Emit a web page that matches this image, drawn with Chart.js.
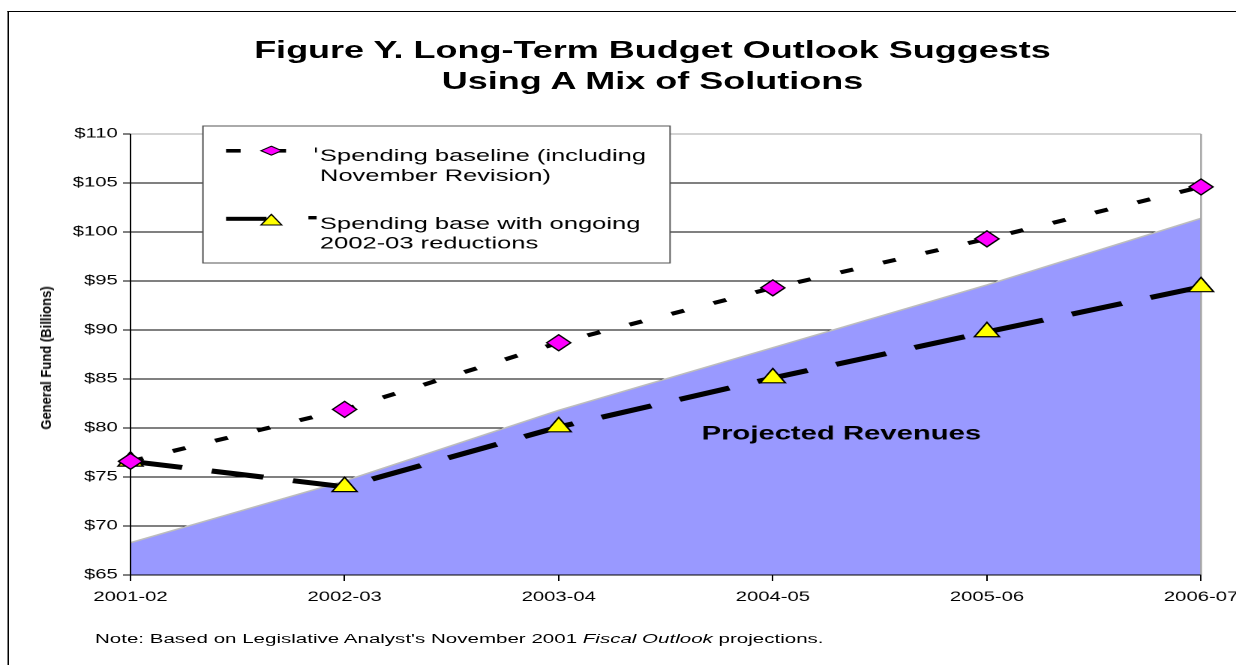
<!DOCTYPE html>
<html>
<head>
<meta charset="utf-8">
<script src="https://cdn.jsdelivr.net/npm/chart.js@4.4.1/dist/chart.umd.min.js"></script>
<style>
  html, body { margin: 0; padding: 0; background: #fff; overflow: hidden; width: 1236px; height: 665px; }
  /* the original figure is stretched sideways, so the whole stage is drawn narrow and scaled */
  #stage { position: absolute; left: 0; top: 0; width: 880px; height: 665px; transform: scaleX(1.5); transform-origin: 0 0; }
  #frame { position: absolute; left: 5.4px; top: 11px; width: 1200px; height: 1200px; border-left: 1px solid #000; border-top: 1.5px solid #000; }
  #title { position: absolute; left: 0; top: 34px; width: 870px; text-align: center; font: bold 24px "Liberation Sans", Arial, sans-serif; line-height: 31px; color: #000; }
  #note { position: absolute; left: 63.3px; top: 631px; font: 13.7px "Liberation Sans", Arial, sans-serif; white-space: nowrap; color: #000; }
  #wrap { position: absolute; left: 0; top: 0; width: 880px; height: 665px; }
  #ytitle { position: absolute; left: 45.5px; top: 358px; transform: translate(-50%, -50%) rotate(-90deg) scaleX(0.93); font: bold 14px "Liberation Sans", Arial, sans-serif; white-space: nowrap; color: #000; }
</style>
</head>
<body>
<div id="stage">
  <div id="frame"></div>
  <div id="title">Figure Y. Long-Term Budget Outlook Suggests<br>Using A Mix of Solutions</div>
  <div id="wrap"><canvas id="budgetChart"></canvas></div>
  <div id="note">Note: Based on Legislative Analyst's November 2001 <i>Fiscal Outlook</i> projections.</div>
</div>
<div id="ytitle">General Fund (Billions)</div>
<script>
var categories = ['2001-02', '2002-03', '2003-04', '2004-05', '2005-06', '2006-07'];
var baseline = [76.6, 81.9, 88.7, 94.3, 99.3, 104.6];
var reductions = [76.6, 74.0, 80.1, 85.1, 89.8, 94.4];
var revenues = [68.3, 74.6, 81.8, 88.2, 94.6, 101.4];
var yMin = 65, yMax = 110, yStep = 5;
var legendText = [
    ['Spending baseline (including', 'November Revision)'],
    ['Spending base with ongoing', '2002-03 reductions']
];
var areaLabel = 'Projected Revenues';

var FONT = '"Liberation Sans", Arial, sans-serif';
Chart.defaults.font.family = FONT;
Chart.defaults.color = '#000';

function diamond(ctx, x, y, hw, hh) {
    ctx.beginPath();
    ctx.moveTo(x, y - hh);
    ctx.lineTo(x + hw, y);
    ctx.lineTo(x, y + hh);
    ctx.lineTo(x - hw, y);
    ctx.closePath();
    ctx.fill();
    ctx.stroke();
}

var extras = {
    id: 'extras',
    afterDatasetDraw: function (chart, args) {
        // axis lines and right border go over the revenue area but under the spending lines
        if (args.index !== 2) return;
        var a = chart.chartArea, ctx = chart.ctx;
        ctx.save();
        ctx.strokeStyle = '#a6a6a6';
        ctx.lineWidth = 1.3;
        ctx.beginPath();
        ctx.moveTo(a.right, a.top);
        ctx.lineTo(a.right, a.bottom);
        ctx.stroke();
        ctx.strokeStyle = '#000';
        ctx.lineWidth = 1;
        ctx.beginPath();
        ctx.moveTo(a.left, a.top);
        ctx.lineTo(a.left, a.bottom);
        ctx.lineTo(a.right, a.bottom);
        ctx.stroke();
        ctx.restore();
    },
    afterDatasetsDraw: function (chart) {
        var ctx = chart.ctx, xs = chart.scales.x, ys = chart.scales.y;
        ctx.save();
        ctx.font = 'bold 19.5px ' + FONT;
        ctx.fillStyle = '#000';
        ctx.textAlign = 'center';
        ctx.textBaseline = 'middle';
        ctx.fillText(areaLabel, xs.getPixelForValue(3.32), ys.getPixelForValue(79.4));
        ctx.restore();
    },
    afterDraw: function (chart) {
        var ctx = chart.ctx;
        ctx.save();
        // legend box
        ctx.fillStyle = '#fff';
        ctx.fillRect(135.3, 126, 311.4, 137);
        ctx.strokeStyle = '#555';
        ctx.lineWidth = 1;
        ctx.strokeRect(135.3, 126, 311.4, 137);

        // first sample: dashes with a diamond
        ctx.fillStyle = '#000';
        ctx.fillRect(150.7, 149, 9.7, 3.6);
        ctx.fillRect(180.9, 149, 9.8, 3.6);
        ctx.fillRect(210, 147.5, 1.2, 5);
        ctx.fillStyle = '#FF00FF';
        ctx.strokeStyle = '#000';
        ctx.lineWidth = 1;
        diamond(ctx, 180.9, 150.7, 6.9, 4.5);

        // second sample: line with a triangle
        ctx.fillStyle = '#000';
        ctx.fillRect(150.7, 216.8, 27, 4);
        ctx.fillRect(205.6, 216, 5.5, 3.4);
        ctx.fillStyle = '#FFFF00';
        ctx.beginPath();
        ctx.moveTo(180.9, 214.3);
        ctx.lineTo(187.8, 225);
        ctx.lineTo(174, 225);
        ctx.closePath();
        ctx.fill();
        ctx.stroke();

        ctx.fillStyle = '#000';
        ctx.font = '17px ' + FONT;
        ctx.textAlign = 'left';
        ctx.textBaseline = 'middle';
        ctx.fillText(legendText[0][0], 213.3, 156.5);
        ctx.fillText(legendText[0][1], 213.3, 176.5);
        ctx.fillText(legendText[1][0], 213.3, 224.5);
        ctx.fillText(legendText[1][1], 213.3, 244);
        ctx.restore();
    }
};

new Chart(document.getElementById('budgetChart'), {
    type: 'line',
    data: {
        labels: categories,
        datasets: [{
            label: legendText[0].join(' '),
            data: baseline,
            borderColor: '#000',
            borderWidth: 4,
            borderDash: [9, 21],
            fill: false,
            tension: 0,
            clip: false,
            pointStyle: 'rectRot',
            pointRadius: 8,
            pointBackgroundColor: '#FF00FF',
            pointBorderColor: '#000',
            pointBorderWidth: 1.2
        }, {
            label: legendText[1].join(' '),
            data: reductions,
            borderColor: '#000',
            borderWidth: 5,
            borderDash: [35, 20],
            fill: false,
            tension: 0,
            clip: false,
            pointStyle: 'triangle',
            pointRadius: 9.6,
            pointBackgroundColor: '#FFFF00',
            pointBorderColor: '#000',
            pointBorderWidth: 1.2
        }, {
            label: areaLabel,
            data: revenues,
            borderColor: '#bdbdbd',
            borderWidth: 1.5,
            backgroundColor: '#9999FF',
            fill: 'start',
            tension: 0,
            pointRadius: 0
        }]
    },
    options: {
        responsive: true,
        maintainAspectRatio: false,
        animation: false,
        devicePixelRatio: 2,
        layout: { padding: { left: 0, top: 134, right: 79.3, bottom: 0 } },
        scales: {
            x: {
                grid: { drawOnChartArea: false, drawTicks: true, tickLength: 6, color: '#000' },
                border: { display: false },
                ticks: { autoSkip: false, maxRotation: 0, padding: 8, font: { size: 13.5 }, color: '#000' },
                afterFit: function (scale) { scale.height = 90; }
            },
            y: {
                min: yMin,
                max: yMax,
                grid: {
                    color: function (c) { return c.tick && c.tick.value === yMax ? '#a6a6a6' : '#000'; },
                    tickColor: '#000',
                    tickLength: 5,
                    lineWidth: 1
                },
                border: { display: false },
                ticks: {
                    stepSize: yStep,
                    padding: 3.5,
                    font: { size: 13.5 },
                    color: '#000',
                    callback: function (v) { return '$' + v; }
                },
                afterFit: function (scale) { scale.width = 87; }
            }
        },
        plugins: {
            legend: { display: false },
            title: { display: false },
            tooltip: { enabled: false }
        }
    },
    plugins: [extras]
});
</script>
</body>
</html>
